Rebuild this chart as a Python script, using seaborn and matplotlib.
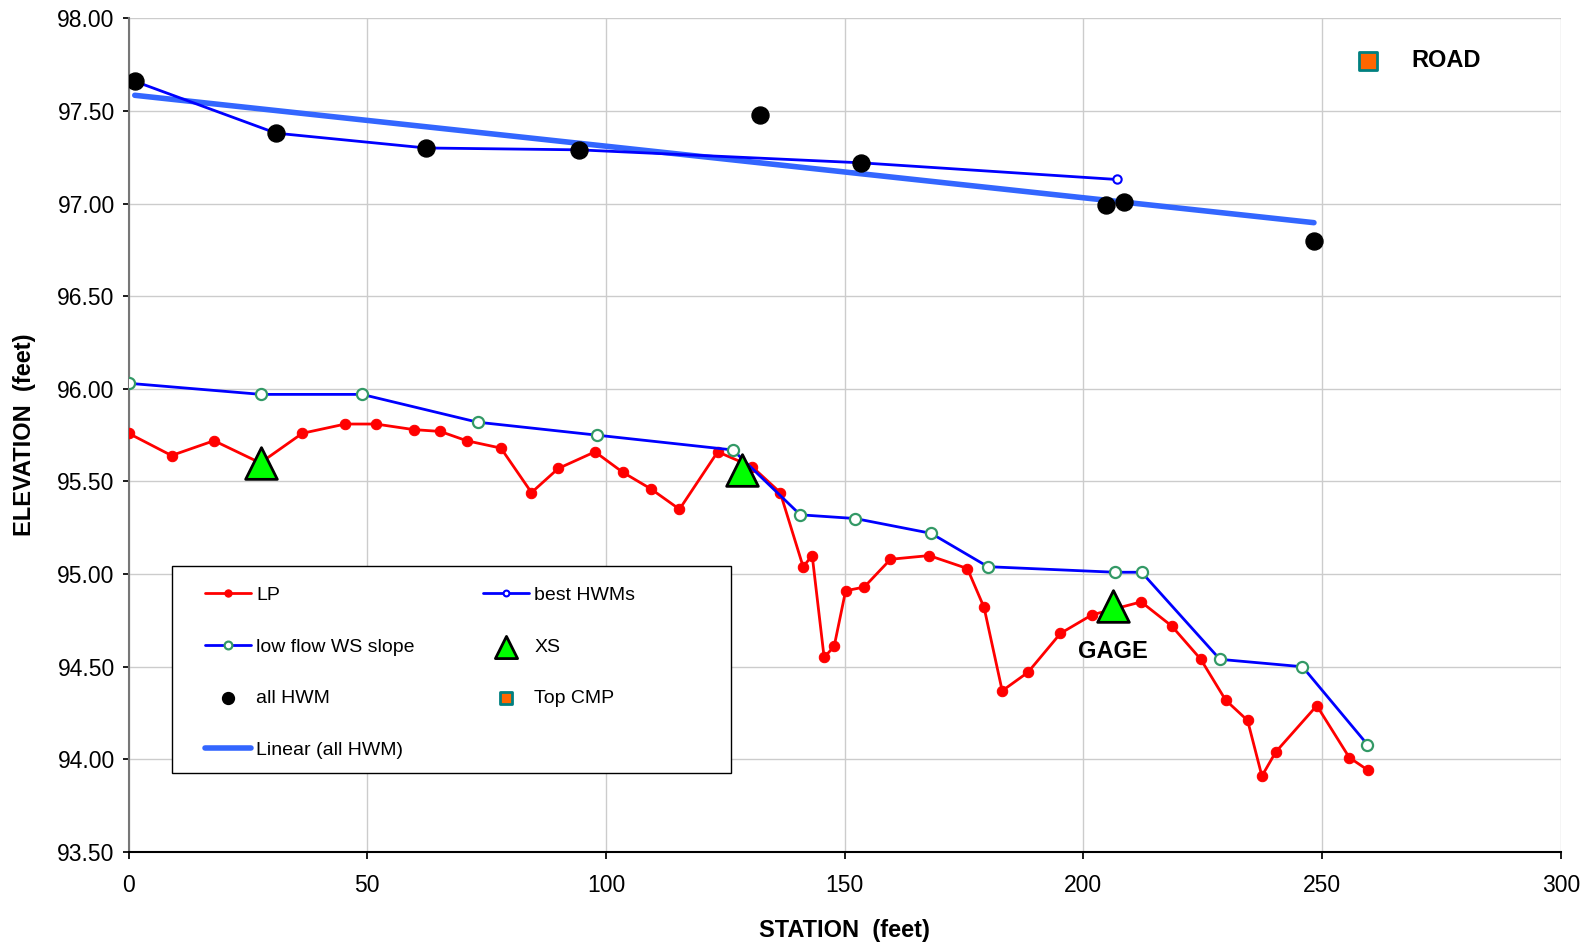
import numpy as np
import pandas as pd
import matplotlib
matplotlib.use('Agg')
import matplotlib.pyplot as plt
import seaborn as sns

# ---- data ----
lp_station = [0, 9.0, 17.9, 27.6, 36.4, 45.4, 51.8, 59.7, 65.3, 70.8, 78.0, 84.4,
              90.0, 97.7, 103.5, 109.4, 115.4, 123.4, 130.6, 136.5, 141.3, 143.2,
              145.7, 147.8, 150.2, 154.1, 159.6, 167.7, 175.7, 179.2, 183.0, 188.4,
              195.2, 201.8, 212.1, 218.5, 224.6, 229.8, 234.4, 237.4, 240.3, 248.9,
              255.7, 259.7]
lp_elev = [95.76, 95.64, 95.72, 95.60, 95.76, 95.81, 95.81, 95.78, 95.77, 95.72,
           95.68, 95.44, 95.57, 95.66, 95.55, 95.46, 95.35, 95.66, 95.58, 95.44,
           95.04, 95.10, 94.55, 94.61, 94.91, 94.93, 95.08, 95.10, 95.03, 94.82,
           94.37, 94.47, 94.68, 94.78, 94.85, 94.72, 94.54, 94.32, 94.21, 93.91,
           94.04, 94.29, 94.01, 93.94]

lowflow_station = [0, 27.8, 48.9, 73.1, 98.1, 126.6, 140.7, 152.2, 168.1, 180.0,
                   206.6, 212.2, 228.6, 245.9, 259.5]
lowflow_elev = [96.03, 95.97, 95.97, 95.82, 95.75, 95.67, 95.32, 95.30, 95.22,
                95.04, 95.01, 95.01, 94.54, 94.50, 94.08]

best_station = [1.3, 30.9, 62.3, 94.3, 153.4, 207.0]
best_elev = [97.66, 97.38, 97.30, 97.29, 97.22, 97.13]

hwm_station = [1.3, 30.9, 62.3, 94.3, 132.3, 153.4, 204.7, 208.5, 248.3]
hwm_elev = [97.66, 97.38, 97.30, 97.29, 97.48, 97.22, 96.99, 97.01, 96.80]

xs_station = [27.7, 128.5, 206.2]
xs_elev = [95.60, 95.56, 94.83]

cmp_station = [259.7]
cmp_elev = [97.77]

# linear trendline through all HWM
slope, intercept = np.polyfit(hwm_station, hwm_elev, 1)
trend_station = [min(hwm_station), max(hwm_station)]
trend_elev = [intercept + slope * s for s in trend_station]

sns.set_theme(style='whitegrid')
plt.rcParams['font.family'] = ['Liberation Sans', 'DejaVu Sans']
plt.rcParams['text.color'] = 'black'
plt.rcParams['axes.labelcolor'] = 'black'

fig, ax = plt.subplots(figsize=(15.91, 9.43), dpi=100)
fig.subplots_adjust(left=0.0808, right=0.981, top=0.9806, bottom=0.0965)

sns.lineplot(x=lp_station, y=lp_elev, ax=ax, color='#FF0000', lw=2,
             marker='o', markersize=7.5, markeredgecolor='#FF0000',
             label='LP', estimator=None, sort=False, zorder=3)
sns.lineplot(x=lowflow_station, y=lowflow_elev, ax=ax, color='#0000FF', lw=2,
             marker='o', markersize=8, markerfacecolor='white',
             markeredgecolor='#339966', markeredgewidth=1.6,
             label='low flow WS slope', estimator=None, sort=False, zorder=3)
sns.scatterplot(x=hwm_station, y=hwm_elev, ax=ax, color='black', s=150,
                edgecolor='black', label='all HWM', zorder=4)
sns.lineplot(x=trend_station, y=trend_elev, ax=ax, color='#3366FF', lw=4,
             label='Linear (all HWM)', estimator=None, zorder=3)
sns.lineplot(x=best_station, y=best_elev, ax=ax, color='#0000FF', lw=2,
             marker='o', markersize=6, markerfacecolor='white',
             markeredgecolor='#0000FF', markeredgewidth=1.5,
             label='best HWMs', estimator=None, sort=False, zorder=3)
sns.scatterplot(x=xs_station, y=xs_elev, ax=ax, marker='^', color='#00FF00',
                s=520, edgecolor='black', linewidth=2, label='XS', zorder=5)
sns.scatterplot(x=cmp_station, y=cmp_elev, ax=ax, marker='s', color='#FF6600',
                s=170, edgecolor='#008080', linewidth=2, label='Top CMP', zorder=5)

ax.text(cmp_station[0] + 9, cmp_elev[0], 'ROAD', fontsize=17, fontweight='bold',
        va='center', ha='left')
ax.text(xs_station[2], 94.58, 'GAGE', fontsize=17, fontweight='bold',
        va='center', ha='center')

ax.set_xlim(0, 300)
ax.set_ylim(93.5, 98.0)
ax.set_xticks(np.arange(0, 301, 50))
ax.set_yticks(np.arange(93.5, 98.01, 0.5))
ax.set_yticklabels([f'{v:.2f}' for v in np.arange(93.5, 98.01, 0.5)])
ax.tick_params(axis='both', labelsize=16.5, colors='black', direction='out',
               left=True, bottom=True)
ax.tick_params(axis='x', length=5, pad=11)
ax.tick_params(axis='y', length=4, pad=6)
ax.grid(True, color='#CCCCCC', lw=1)
ax.set_facecolor('white')
for side in ['top', 'right']:
    ax.spines[side].set_visible(False)
ax.spines['left'].set_color('#777777')
ax.spines['bottom'].set_color('black')
ax.spines['left'].set_linewidth(1.5)
ax.spines['bottom'].set_linewidth(1.5)

ax.set_xlabel('STATION  (feet)', fontsize=17, fontweight='bold', labelpad=16)
ax.set_ylabel('ELEVATION  (feet)', fontsize=17, fontweight='bold', labelpad=15)

# legend box as in the reference, legend entries placed inside it
box = plt.Rectangle((0.0305, 0.095), 0.390, 0.248, transform=ax.transAxes,
                    facecolor='white', edgecolor='black', lw=1.0, zorder=6)
ax.add_patch(box)

handles, labels = ax.get_legend_handles_labels()
order = ['LP', 'low flow WS slope', 'all HWM', 'Linear (all HWM)',
         'best HWMs', 'XS', 'Top CMP']
hmap = dict(zip(labels, handles))
leg = ax.legend([hmap[k] for k in order], order, ncol=2, loc='upper left',
                bbox_to_anchor=(0.039, 0.343), fontsize=14, frameon=False,
                labelspacing=1.75, handlelength=2.35, handletextpad=0.3,
                columnspacing=3.5, borderpad=0.55, markerscale=0.7)
leg.set_zorder(7)

plt.savefig('out.png', dpi=100)
